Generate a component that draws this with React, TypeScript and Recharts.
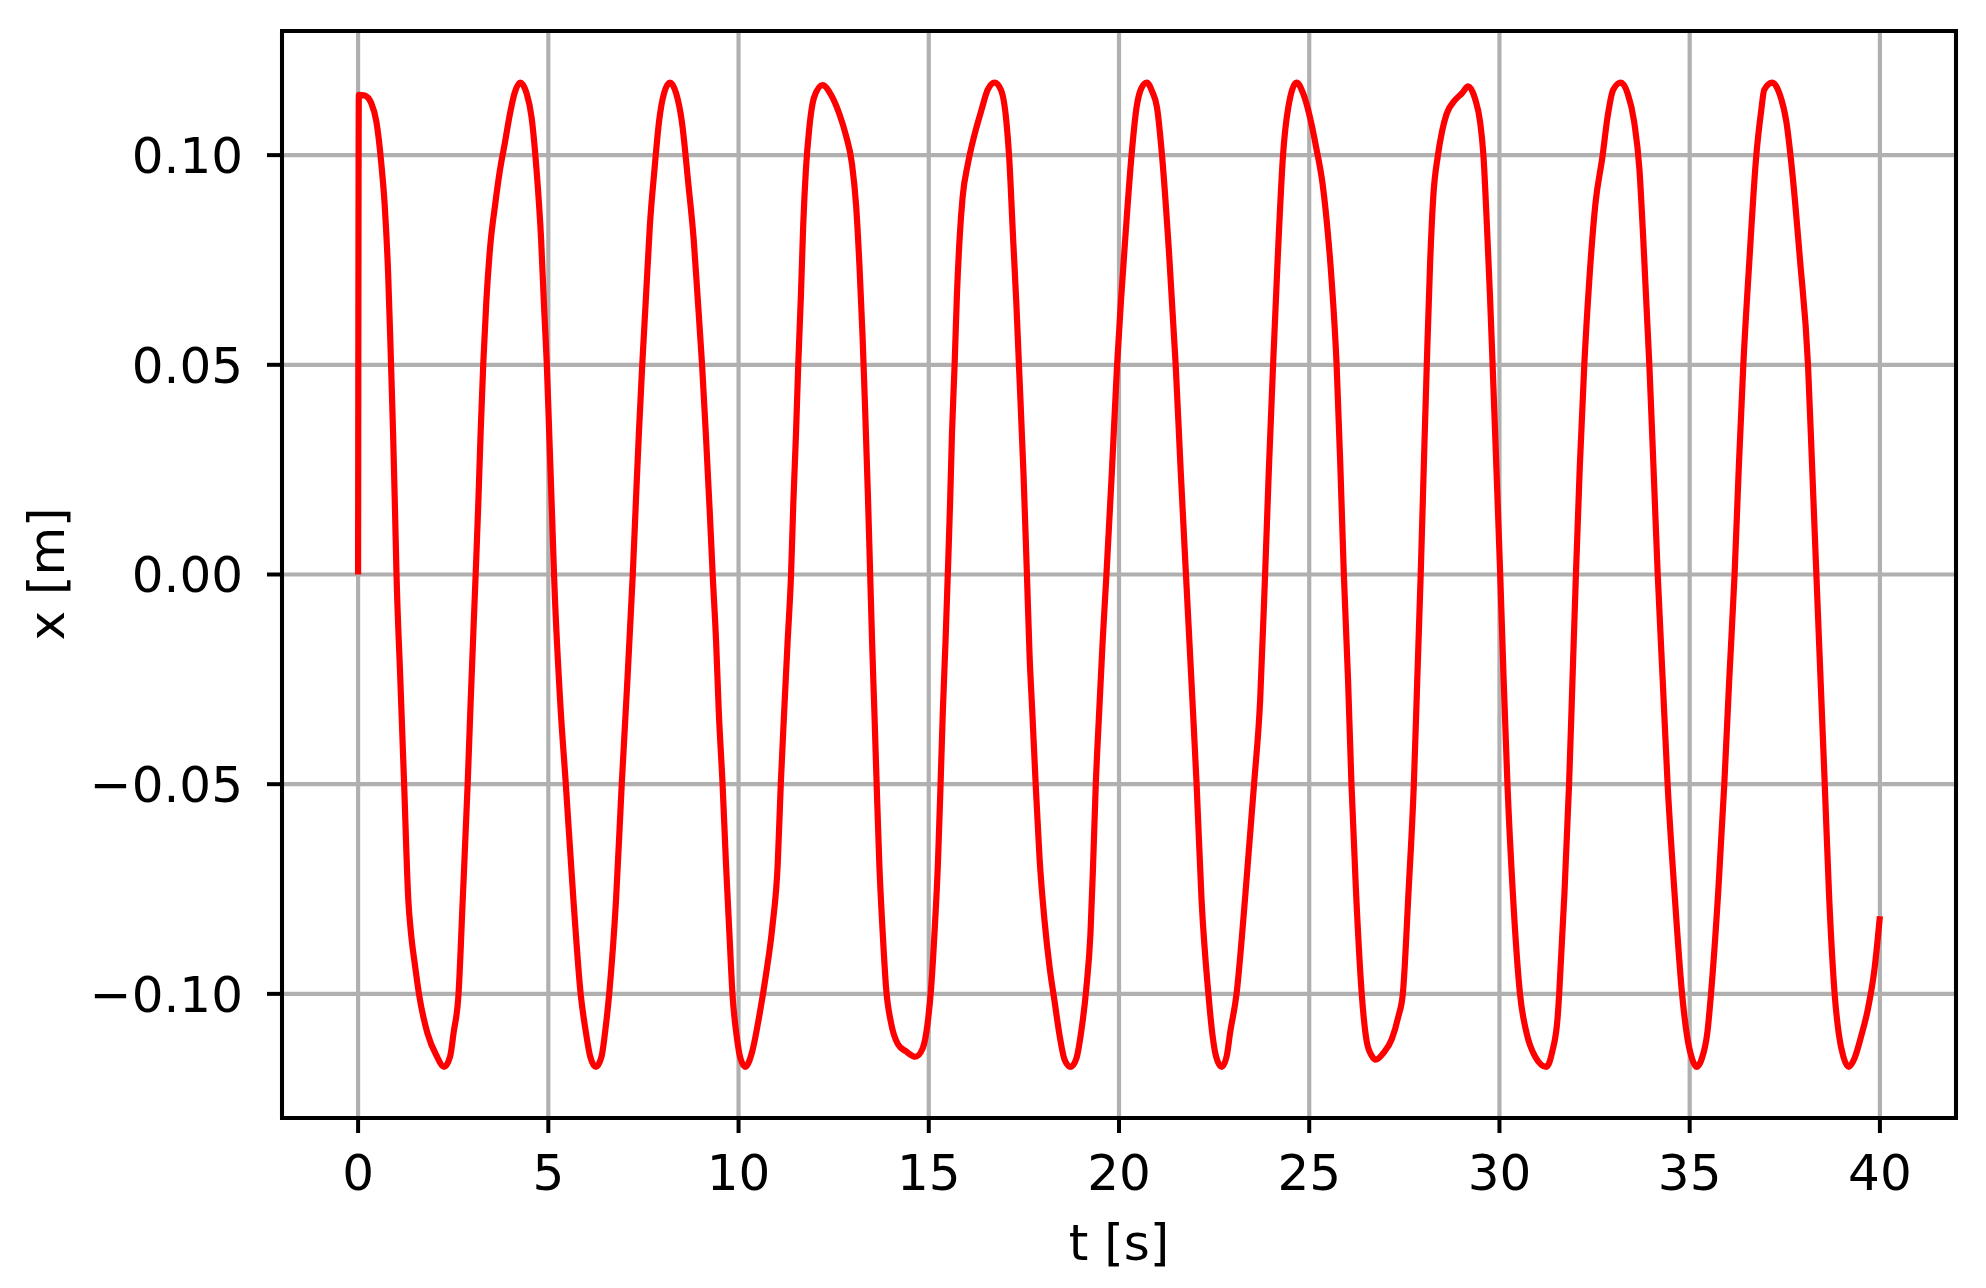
import { LineChart, Line, XAxis, YAxis, CartesianGrid, ReferenceArea } from 'recharts'

// t [s], x [m], split in four stretches
const segment1: [number, number][] = [
  [0, 0], [0.02, 0.1144], [0.175, 0.1142], [0.35, 0.1123], [0.48, 0.108], [0.61, 0.098], [0.7, 0.088],
  [0.79, 0.0717], [0.85, 0.055], [0.92, 0.0336], [0.97, 0.0155], [1.01, 0], [1.11, -0.025], [1.21, -0.05],
  [1.32, -0.0776], [1.39, -0.0855], [1.5, -0.0935], [1.6, -0.1], [1.82, -0.1093], [2.07, -0.1149],
  [2.26, -0.1174], [2.42, -0.1149], [2.51, -0.1093], [2.64, -0.1], [2.75, -0.0776], [2.88, -0.05],
  [2.96, -0.03], [3.09, 0], [3.16, 0.017], [3.22, 0.0336], [3.29, 0.0502], [3.37, 0.065], [3.47, 0.078],
  [3.6, 0.088], [3.73, 0.0965], [3.86, 0.103], [3.99, 0.1098], [4.12, 0.115], [4.26, 0.1173], [4.43, 0.1147],
  [4.56, 0.109], [4.69, 0.0965], [4.81, 0.08], [4.89, 0.0634], [4.96, 0.0502], [5.03, 0.032], [5.1, 0.0137],
  [5.15, 0], [5.31, -0.03], [5.46, -0.05], [5.66, -0.0776], [5.85, -0.1], [5.99, -0.1093], [6.1, -0.1149],
  [6.25, -0.1174], [6.4, -0.1149], [6.49, -0.1093], [6.6, -0.1], [6.78, -0.0776], [6.93, -0.05], [7.05, -0.03],
  [7.22, 0], [7.3, 0.017], [7.38, 0.0336], [7.47, 0.0502], [7.57, 0.0667], [7.67, 0.0833], [7.79, 0.0965],
  [7.91, 0.108], [8.04, 0.1147], [8.2, 0.1173], [8.36, 0.1147], [8.51, 0.108], [8.68, 0.0932], [8.82, 0.08],
  [8.92, 0.0667], [9.04, 0.0502], [9.14, 0.0336], [9.25, 0.0137], [9.32, 0], [9.41, -0.016], [9.48, -0.0326],
  [9.58, -0.05], [9.67, -0.069], [9.76, -0.0856], [9.84, -0.1], [9.95, -0.11], [10.05, -0.1154],
]

const segment2: [number, number][] = [
  [10.18, -0.1174], [10.36, -0.1137], [10.54, -0.1055], [10.72, -0.0955], [10.89, -0.0839], [11.03, -0.069],
  [11.11, -0.05], [11.2, -0.0326], [11.29, -0.016], [11.38, 0], [11.44, 0.017], [11.51, 0.0336], [11.57, 0.0502],
  [11.64, 0.0667], [11.7, 0.0833], [11.77, 0.0965], [11.86, 0.1065], [11.99, 0.1139], [12.21, 0.1167],
  [12.43, 0.1144], [12.65, 0.1098], [12.82, 0.1048], [12.98, 0.098], [13.09, 0.088], [13.18, 0.0733],
  [13.26, 0.0568], [13.33, 0.0386], [13.4, 0.019], [13.46, 0], [13.51, -0.016], [13.57, -0.0326], [13.63, -0.05],
  [13.7, -0.069], [13.79, -0.0856], [13.88, -0.0988], [14.01, -0.107], [14.19, -0.112], [14.4, -0.1137],
  [14.65, -0.115], [14.84, -0.113], [14.97, -0.107], [15.06, -0.0988], [15.15, -0.0856], [15.24, -0.069],
  [15.31, -0.05], [15.37, -0.0326], [15.44, -0.016], [15.5, 0], [15.56, 0.017], [15.61, 0.0336], [15.68, 0.0502],
  [15.74, 0.0667], [15.81, 0.08], [15.89, 0.09], [16.03, 0.098], [16.2, 0.1048], [16.38, 0.1106], [16.55, 0.1156],
  [16.73, 0.1173], [16.9, 0.1155], [17.04, 0.108], [17.11, 0.1], [17.22, 0.0795], [17.3, 0.065], [17.37, 0.05],
  [17.49, 0.024], [17.58, 0], [17.65, -0.0194], [17.72, -0.0326], [17.81, -0.05], [17.91, -0.0674],
  [18.04, -0.0823], [18.18, -0.0939], [18.31, -0.102], [18.44, -0.11], [18.57, -0.1157], [18.73, -0.1174],
  [18.88, -0.1154], [19.01, -0.1088], [19.14, -0.0988], [19.25, -0.0856], [19.32, -0.069], [19.39, -0.05],
  [19.48, -0.0326], [19.57, -0.016], [19.67, 0], [19.81, 0.024], [19.95, 0.05], [20.05, 0.065], [20.16, 0.0795],
  [20.33, 0.1], [20.46, 0.1113], [20.58, 0.1158],
]

const segment3: [number, number][] = [
  [20.73, 0.1173], [20.87, 0.1152], [21.0, 0.1113], [21.13, 0.1], [21.32, 0.076], [21.49, 0.05], [21.62, 0.025],
  [21.76, 0], [21.93, -0.03], [22.04, -0.05], [22.17, -0.0776], [22.35, -0.1], [22.45, -0.1093],
  [22.55, -0.1149], [22.7, -0.1174], [22.83, -0.1149], [22.92, -0.1093], [23.09, -0.1], [23.31, -0.0776],
  [23.55, -0.05], [23.71, -0.03], [23.84, 0], [23.94, 0.0253], [24.05, 0.05], [24.17, 0.075], [24.31, 0.0998],
  [24.45, 0.1114], [24.67, 0.1173], [24.84, 0.1147], [25.02, 0.109], [25.19, 0.1015], [25.35, 0.0932],
  [25.47, 0.0833], [25.59, 0.07], [25.72, 0.05], [25.82, 0.0253], [25.91, 0], [26.02, -0.025], [26.11, -0.05],
  [26.23, -0.0757], [26.38, -0.1], [26.51, -0.1113], [26.64, -0.1147], [26.75, -0.1157], [26.95, -0.1141],
  [27.17, -0.1108], [27.34, -0.1055], [27.46, -0.1], [27.61, -0.0757], [27.75, -0.05], [27.84, -0.025],
  [27.93, 0], [28.01, 0.0253], [28.09, 0.05], [28.18, 0.075], [28.26, 0.09], [28.38, 0.0998], [28.49, 0.1056],
  [28.61, 0.1098], [28.83, 0.1131], [29.01, 0.1147], [29.18, 0.1164], [29.36, 0.1134], [29.49, 0.108],
  [29.58, 0.0998], [29.67, 0.0833], [29.75, 0.0667], [29.82, 0.05], [29.92, 0.0253], [30.02, 0],
]

const segment4: [number, number][] = [
  [30.11, -0.025], [30.21, -0.05], [30.35, -0.0757], [30.54, -0.1], [30.72, -0.1096], [30.94, -0.115],
  [31.23, -0.1174], [31.39, -0.1137], [31.53, -0.1055], [31.57, -0.1], [31.71, -0.0757], [31.83, -0.05],
  [31.92, -0.025], [32.01, 0], [32.11, 0.0253], [32.23, 0.05], [32.36, 0.07], [32.52, 0.0882], [32.71, 0.0998],
  [32.84, 0.109], [32.99, 0.1156], [33.19, 0.1173], [33.37, 0.1147], [33.54, 0.108], [33.68, 0.0965],
  [33.78, 0.08], [33.94, 0.05], [34.05, 0.0253], [34.16, 0], [34.29, -0.025], [34.42, -0.05], [34.6, -0.0757],
  [34.8, -0.1], [34.93, -0.11], [35.06, -0.1154], [35.18, -0.1174], [35.32, -0.1154], [35.47, -0.1088],
  [35.56, -0.1], [35.75, -0.0757], [35.91, -0.05], [36.04, -0.025], [36.18, 0], [36.29, 0.0253], [36.41, 0.05],
  [36.57, 0.075], [36.75, 0.0998], [36.88, 0.1106], [36.96, 0.1156], [37.17, 0.1173], [37.36, 0.1147],
  [37.54, 0.108], [37.69, 0.0965], [37.9, 0.075], [38.11, 0.05], [38.22, 0.0253], [38.33, 0], [38.44, -0.025],
  [38.55, -0.05], [38.66, -0.0757], [38.81, -0.1], [38.92, -0.1096], [39.04, -0.115], [39.18, -0.1174],
  [39.33, -0.1154], [39.51, -0.11], [39.68, -0.1038], [39.86, -0.0939], [40.0, -0.0815],
]

const xTicks = [0, 5, 10, 15, 20, 25, 30, 35, 40]
const yTicks = [-0.1, -0.05, 0, 0.05, 0.1]
const xDomain: [number, number] = [-2, 42]
const yDomain: [number, number] = [-0.1296, 0.1296]

const data = [...segment1, ...segment2, ...segment3, ...segment4].map(([t, x]) => ({ t, x }))

const formatY = (v: number) => (v < 0 ? '\u2212' : '') + Math.abs(v).toFixed(2)

const tickStyle = { fill: '#000', fontSize: 50, fontFamily: 'DejaVu Sans' }

export default function App() {
  return (
    <div style={{ position: 'absolute', left: 0, top: 0, background: '#fff', fontFamily: 'DejaVu Sans' }}>
      <LineChart width={1986} height={1288} data={data} margin={{ top: 31, right: 30, bottom: 110, left: 82 }}>
        <CartesianGrid stroke='#b0b0b0' strokeWidth={4.2} />
        <XAxis
          type='number'
          dataKey='t'
          domain={xDomain}
          ticks={xTicks}
          interval={0}
          allowDataOverflow
          height={60}
          axisLine={false}
          tickSize={15}
          tickMargin={21}
          tickLine={{ stroke: '#000', strokeWidth: 4 }}
          tick={tickStyle}
          label={() => (
            <text x={1119} y={1260} textAnchor='middle' fontSize={50} fill='#000' fontFamily='DejaVu Sans'>
              t [s]
            </text>
          )}
        />
        <YAxis
          type='number'
          dataKey='x'
          domain={yDomain}
          ticks={yTicks}
          interval={0}
          allowDataOverflow
          width={200}
          axisLine={false}
          tickSize={15}
          tickMargin={24}
          tickLine={{ stroke: '#000', strokeWidth: 4 }}
          tick={tickStyle}
          tickFormatter={formatY}
          label={() => (
            <text
              transform='translate(63.5,574) rotate(-90)'
              textAnchor='middle'
              fontSize={50}
              fill='#000'
              fontFamily='DejaVu Sans'
            >
              x [m]
            </text>
          )}
        />
        <ReferenceArea
          x1={xDomain[0]}
          x2={xDomain[1]}
          y1={yDomain[0]}
          y2={yDomain[1]}
          fill='none'
          fillOpacity={0}
          stroke='#000'
          strokeWidth={4}
          ifOverflow='visible'
        />
        <Line
          type='monotone'
          dataKey='x'
          stroke='#ff0000'
          strokeWidth={6.2}
          dot={false}
          isAnimationActive={false}
        />
      </LineChart>
    </div>
  )
}
